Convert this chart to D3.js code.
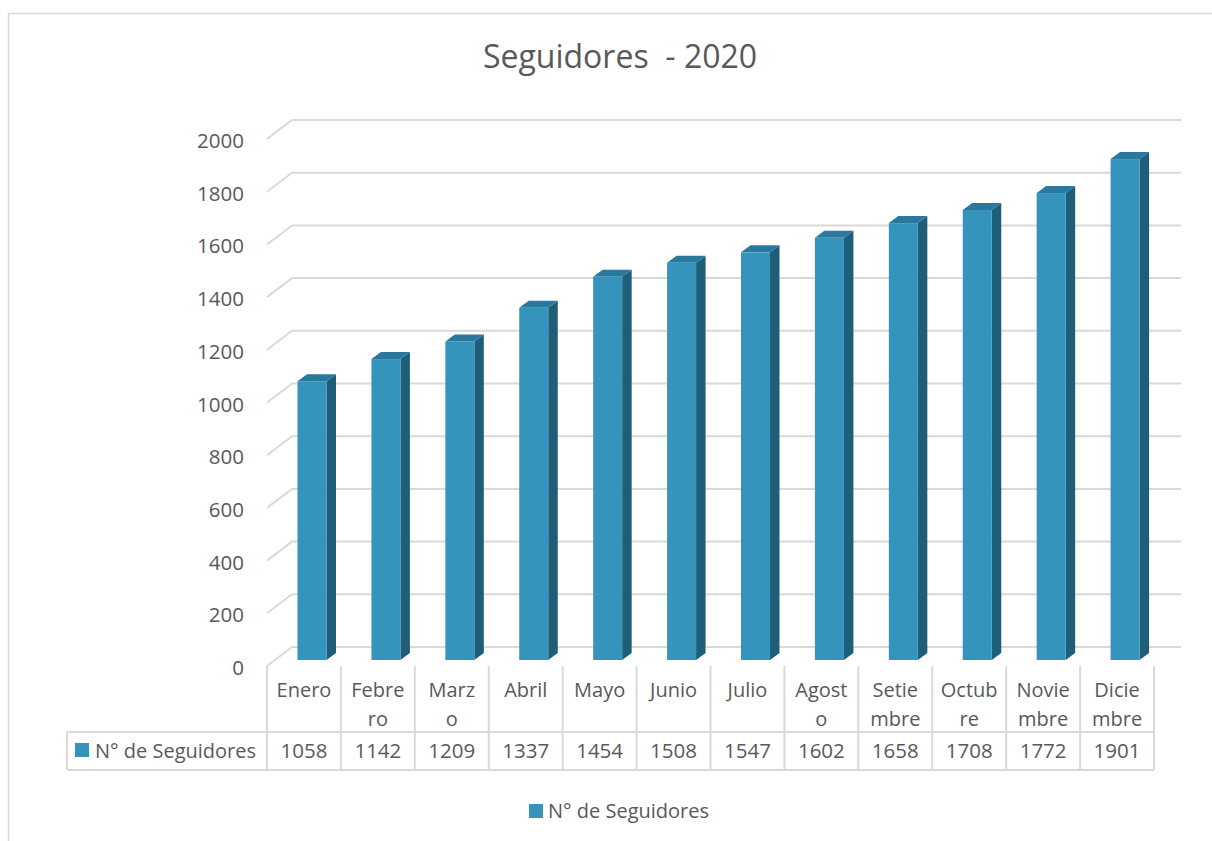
<!DOCTYPE html>
<html>
<head>
    <meta charset="utf-8">
    <title>Seguidores - 2020</title>
    <script src="https://cdnjs.cloudflare.com/ajax/libs/d3/7.8.5/d3.min.js"></script>
    <style>
    body { margin:0; background:#fff; }
    svg text { font-family:"Open Sans", sans-serif; fill:#595959; white-space:pre; }
    </style>
</head>
<body>
<div id="chart"></div>
<script>
// data
var months = ['Enero','Febrero','Marzo','Abril','Mayo','Junio','Julio','Agosto','Setiembre','Octubre','Noviembre','Diciembre'];
var monthLines = [['Enero'],['Febre','ro'],['Marz','o'],['Abril'],['Mayo'],['Junio'],['Julio'],['Agost','o'],['Setie','mbre'],['Octub','re'],['Novie','mbre'],['Dicie','mbre']];
var seguidores = [1058,1142,1209,1337,1454,1508,1547,1602,1658,1708,1772,1901];
var yTicks = [0,200,400,600,800,1000,1200,1400,1600,1800,2000];
var seriesName = 'N° de Seguidores';
var title = 'Seguidores  - 2020';

var width = 1212, height = 841;
var grid = '#d9d9d9';
var front = '#3494bc', side = '#1f5e79', top_ = '#2a789e';

// floor depth offsets (back wall -> front edge)
var depthX = 25, depthY = 19;

var svg = d3.select('#chart').append('svg')
    .attr('width', width)
    .attr('height', height);

// chart border
svg.append('rect')
    .attr('x', 8.5).attr('y', 13.5)
    .attr('width', 1240).attr('height', 900)
    .attr('fill', 'none').attr('stroke', grid).attr('stroke-width', 1.5);

// title
svg.append('text')
    .attr('x', 620).attr('y', 68)
    .attr('text-anchor', 'middle')
    .style('font-size', '32px')
    .text(title);

var x = d3.scaleBand().domain(months).range([267, 1154]).padding(0);
// back wall scale
var y = d3.scaleLinear().domain([0, 2000]).range([647, 120]);

// gridlines: back wall + diagonal to front
yTicks.forEach(function(t) {
    var yb = y(t);
    svg.append('path')
        .attr('d', 'M' + (267) + ',' + (yb + depthY) + 'L' + (267 + depthX) + ',' + yb + 'L1181,' + yb)
        .attr('fill', 'none').attr('stroke', grid).attr('stroke-width', 2);
    svg.append('text')
        .attr('x', 244).attr('y', yb + depthY + 9)
        .attr('text-anchor', 'end')
        .style('font-size', '20.5px')
        .text(t);
});

// bars (front face 13px in front of back wall)
var barOff = 30.5, barW = 29, bx = 9.5, by = 7, floorY = 13;
var bars = svg.selectAll('g.bar').data(seguidores).enter().append('g').attr('class', 'bar');
bars.each(function(d, i) {
    var g = d3.select(this);
    var x0 = x(months[i]) + barOff, x1 = x0 + barW;
    var yt = y(d) + floorY, yb = y(0) + floorY;
    g.append('path')
        .attr('d', 'M' + x1 + ',' + yb + 'L' + (x1 + bx) + ',' + (yb - by) + 'L' + (x1 + bx) + ',' + (yt - by) + 'L' + x1 + ',' + yt + 'Z')
        .attr('fill', side);
    g.append('path')
        .attr('d', 'M' + x0 + ',' + yt + 'L' + (x0 + bx) + ',' + (yt - by) + 'L' + (x1 + bx) + ',' + (yt - by) + 'L' + x1 + ',' + yt + 'Z')
        .attr('fill', top_);
    g.append('rect')
        .attr('x', x0).attr('y', yt)
        .attr('width', barW).attr('height', yb - yt)
        .attr('fill', front);
});

// data table
var tTop = 666, tMid = 732, tBot = 770, tLeft = 67;
var lines = svg.append('g').attr('stroke', grid).attr('stroke-width', 2);
months.forEach(function(m, i) {
    lines.append('line')
        .attr('x1', x(m)).attr('x2', x(m))
        .attr('y1', tTop).attr('y2', tBot);
});
lines.append('line').attr('x1', 1154).attr('x2', 1154).attr('y1', tTop).attr('y2', tBot);
lines.append('line').attr('x1', tLeft).attr('x2', tLeft).attr('y1', tMid).attr('y2', tBot);
lines.append('line').attr('x1', tLeft).attr('x2', 1154).attr('y1', tMid).attr('y2', tMid);
lines.append('line').attr('x1', tLeft).attr('x2', 1154).attr('y1', tBot).attr('y2', tBot);

months.forEach(function(m, i) {
    var cx = x(m) + x.bandwidth() / 2;
    monthLines[i].forEach(function(l, k) {
        svg.append('text')
            .attr('x', cx).attr('y', 697 + k * 29)
            .attr('text-anchor', 'middle')
            .style('font-size', '20px')
            .text(l);
    });
    svg.append('text')
        .attr('x', cx).attr('y', 758)
        .attr('text-anchor', 'middle')
        .style('font-size', '20.5px')
        .text(seguidores[i]);
});

svg.append('rect')
    .attr('x', 75).attr('y', 743).attr('width', 14).attr('height', 14)
    .attr('fill', front);
svg.append('text')
    .attr('x', 95).attr('y', 758)
    .style('font-size', '20px')
    .text(seriesName);

// legend
svg.append('rect')
    .attr('x', 529).attr('y', 804).attr('width', 14).attr('height', 14)
    .attr('fill', front);
svg.append('text')
    .attr('x', 548).attr('y', 818)
    .style('font-size', '20px')
    .text(seriesName);
</script>
</body>
</html>
